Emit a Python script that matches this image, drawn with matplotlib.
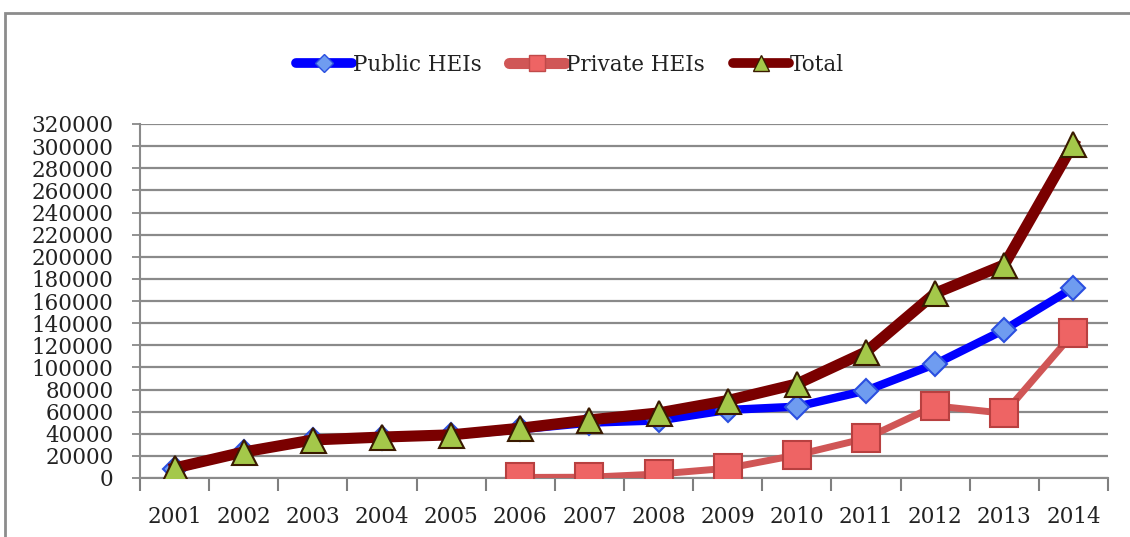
import matplotlib
matplotlib.use("Agg")
import matplotlib.pyplot as plt
from matplotlib.patches import Rectangle
from matplotlib.lines import Line2D
import numpy as np

years = ["2001", "2002", "2003", "2004", "2005", "2006", "2007",
         "2008", "2009", "2010", "2011", "2012", "2013", "2014"]
public = [8000, 23500, 34000, 36500, 38500, 44000, 50000,
          52000, 61500, 64500, 79000, 103000, 134000, 172000]
private_years = ["2006", "2007", "2008", "2009", "2010", "2011", "2012", "2013", "2014"]
private = [500, 700, 3600, 8800, 20800, 35900, 65200, 58500, 131000]
total = [9000, 23500, 34400, 37000, 39000, 45000, 52500,
         58800, 70000, 85000, 114000, 167000, 192700, 302000]
yticks = list(range(0, 320001, 20000))
labels = ["Public HEIs", "Private HEIs", "Total"]

plt.rcParams['font.family'] = ['DejaVu Serif']
FS = 15.5

fig = plt.figure(figsize=(11.3, 5.37), dpi=100)
fig.patches.append(Rectangle((5/1130, -0.1), 1.2, (537-13)/537 + 0.1,
                             transform=fig.transFigure, fill=False,
                             edgecolor='#8c8c8c', linewidth=2))
ax = fig.add_axes([140/1130, (537-478)/537, (1108-140)/1130, (478-124)/537])

x = np.arange(len(years))
xp = [years.index(y) for y in private_years]

ax.plot(x, public, color='#0000ff', lw=6, marker='D', ms=12,
        mfc='#6f9cf0', mec='#2a4fe0', mew=1.5, zorder=3)
ax.plot(xp, private, color='#d05656', lw=5, marker='s', ms=20,
        mfc='#ee6464', mec='#b84040', mew=1.5, zorder=4)
ax.plot(x, total, color='#7a0000', lw=8, marker='^', ms=18,
        mfc='#a4c84a', mec='#3a1a00', mew=1.5, zorder=5)

ax.set_xlim(-0.5, len(years) - 0.5)
ax.set_ylim(0, 320000)
ax.set_yticks(yticks)
ax.set_yticklabels([str(v) for v in yticks], fontsize=FS, color='#222222')
ax.set_xticks(x)
ax.set_xticklabels(years, fontsize=FS, color='#222222')
ax.set_xticks(np.arange(-0.5, len(years), 1), minor=True)
ax.tick_params(axis='x', which='major', length=0, pad=20)
ax.tick_params(axis='x', which='minor', length=9, width=1.5, color='#7f7f7f', direction='out')
ax.tick_params(axis='y', length=6, width=1.2, color='#7f7f7f', pad=13)
for v in yticks:
    ax.axhline(v, color='#8a8a8a', lw=1.6, zorder=1)
for s in ['top', 'right']:
    ax.spines[s].set_visible(False)
ax.spines['left'].set_color('#8a8a8a')
ax.spines['left'].set_linewidth(1.5)
ax.spines['bottom'].set_color('#8a8a8a')
ax.spines['bottom'].set_linewidth(1.5)

handles = [
    Line2D([], [], color='#0000ff', lw=7, solid_capstyle='round', marker='D', ms=9,
           mfc='#6f9cf0', mec='#2a4fe0', mew=1),
    Line2D([], [], color='#d05656', lw=8, solid_capstyle='round', marker='s', ms=12,
           mfc='#ee6464', mec='#c04a4a', mew=1),
    Line2D([], [], color='#7a0000', lw=7, solid_capstyle='round', marker='^', ms=11,
           mfc='#a4c84a', mec='#3a1a00', mew=1),
]
fig.legend(handles, labels, loc='center', bbox_to_anchor=(570/1130, (537-65)/537), ncol=3,
           frameon=False, fontsize=FS, handlelength=2.6, handletextpad=0.05,
           columnspacing=1.3, labelcolor='#222222')

fig.savefig("out.png", dpi=100)
